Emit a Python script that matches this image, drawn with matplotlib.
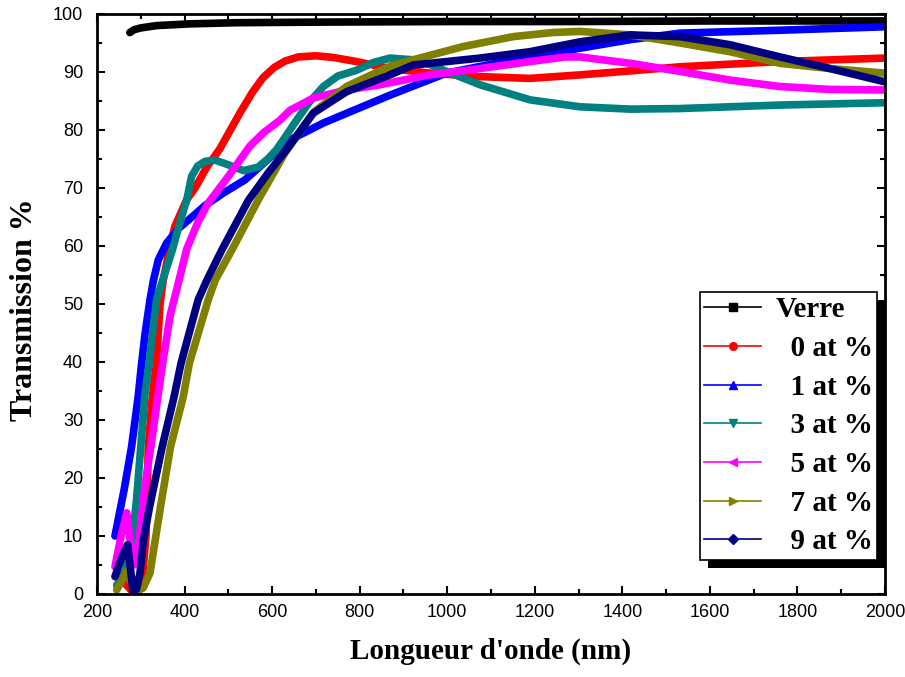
import matplotlib
matplotlib.use("Agg")
import matplotlib.pyplot as plt
from matplotlib.lines import Line2D
from matplotlib.patches import Rectangle
from matplotlib.transforms import IdentityTransform
from matplotlib.ticker import MultipleLocator

# Transmission spectra: wavelength (nm) and transmission (%) per sample
verre_wl = [275, 285, 300, 336, 412, 519, 700, 1000, 1300, 1600, 2000]
verre_t = [96.8, 97.3, 97.6, 98.0, 98.3, 98.5, 98.6, 98.7, 98.7, 98.8, 98.8]

at0_wl = [262, 280, 295, 305, 312, 317, 325, 336, 344, 351, 367, 378, 405, 424, 450,
          481, 527, 555, 579, 605, 630, 660, 700, 740, 793, 869, 960, 1075, 1189, 1303,
          1420, 1532, 1760, 2000]
at0_t = [2, 0.5, 1.5, 4, 10, 25, 33, 40, 50, 54, 60, 63.4, 68, 70, 73.5,
         76.8, 83, 86.5, 89, 90.8, 91.9, 92.6, 92.8, 92.5, 91.8, 90.6, 89.8, 89.2, 88.9, 89.5,
         90.2, 90.9, 91.8, 92.4]

at1_wl = [241, 262, 279, 294, 302, 310, 321, 329, 340, 359, 386, 420, 447, 490, 538, 599,
          641, 717, 793, 869, 998, 1151, 1303, 1420, 1532, 1760, 2000]
at1_t = [10, 18, 25.4, 34, 39.8, 45, 50.7, 54.1, 57.6, 60.5, 63, 65.2, 67, 69.2, 71.4, 75.5,
         78.3, 81.2, 83.6, 86, 89.8, 92.1, 94.1, 95.6, 96.7, 97.2, 97.8]

at3_wl = [245, 265, 280, 290, 300, 309, 319, 336, 348, 372, 393, 405, 416, 430, 447, 470,
          500, 535, 568, 590, 610, 630, 656, 685, 717, 750, 793, 830, 869, 922, 960, 998,
          1075, 1189, 1303, 1418, 1532, 1646, 1760, 2000]
at3_t = [1.5, 4, 9, 16, 25.4, 34, 39.8, 50.7, 53.6, 59.3, 65, 67.9, 72, 73.8, 74.6, 74.8,
         74, 73, 73.6, 75, 76.6, 78.8, 81.7, 84.8, 87.5, 89.3, 90.3, 91.6, 92.4, 92.1, 91.3, 90.1,
         87.8, 85.2, 84, 83.6, 83.7, 84, 84.3, 84.7]

at5_wl = [241, 255, 268, 276, 284, 292, 300, 310, 323, 339, 350, 367, 387, 405, 430, 454,
          500, 549, 580, 618, 641, 694, 770, 846, 960, 1075, 1189, 1270, 1303, 1418,
          1532, 1646, 1760, 1874, 2000]
at5_t = [4.7, 10, 14, 9, 5, 6, 12, 19, 25.4, 34, 39.8, 48, 54, 59.5, 64, 67.4,
         72, 77.2, 79.5, 81.7, 83.4, 85.5, 86.9, 87.8, 89.5, 90.6, 91.8, 92.6, 92.6, 91.5,
         90.1, 88.6, 87.5, 87, 86.9]

at7_wl = [245, 258, 268, 278, 290, 305, 321, 345, 368, 397, 411, 454, 470, 508, 568,
          629, 694, 770, 869, 922, 1037, 1151, 1240, 1303, 1418, 1532, 1646, 1760, 1874, 2000]
at7_t = [0.7, 2.5, 4, 2, 0.5, 1, 3.6, 15, 25.4, 34, 39.8, 50.7, 54.1, 59.3, 67.9,
         76, 83, 87.5, 91, 92.1, 94.4, 96.1, 96.8, 97, 96.4, 95, 93.5, 91.5, 90.6, 89.8]

at9_wl = [241, 255, 270, 277, 282, 290, 298, 306, 320, 349, 376, 392, 431, 451, 485,
          546, 590, 633, 694, 770, 869, 922, 1075, 1189, 1303, 1418, 1532, 1646, 1760, 1874, 2000]
at9_t = [3, 6, 8.5, 4, 0.5, 0.8, 3.5, 9.3, 15, 25.4, 34, 39.8, 50.7, 54.1, 59.3,
         67.9, 72.5, 76.6, 82.9, 86.6, 89.5, 91.2, 92.4, 93.5, 95.2, 96.4, 96.1, 94.7, 92.6, 90.6, 88.3]

labels = ["Verre", "  0 at %", "  1 at %", "  3 at %", "  5 at %", "  7 at %", "  9 at %"]
colors = ["#000000", "#FF0000", "#0000FF", "#008080", "#FF00FF", "#808000", "#000080"]
markers = ["s", "o", "^", "v", "<", ">", "D"]
wavelengths = [verre_wl, at0_wl, at1_wl, at3_wl, at5_wl, at7_wl, at9_wl]
transmissions = [verre_t, at0_t, at1_t, at3_t, at5_t, at7_t, at9_t]

serif = "Liberation Serif"
sans = "Liberation Sans"

fig = plt.figure(figsize=(9.05, 6.77), dpi=100)
ax = fig.add_axes([97 / 905, 1 - 594 / 677, 788 / 905, 580 / 677])

for wl, t, c in zip(wavelengths, transmissions, colors):
    ax.plot(wl, t, color=c, lw=5.5, solid_joinstyle="round", solid_capstyle="round")

ax.set_xlim(200, 2000)
ax.set_ylim(0, 100)
ax.xaxis.set_major_locator(MultipleLocator(200))
ax.xaxis.set_minor_locator(MultipleLocator(100))
ax.yaxis.set_major_locator(MultipleLocator(10))
ax.yaxis.set_minor_locator(MultipleLocator(5))
ax.tick_params(which="both", direction="in", top=True, right=True, width=1.5)
ax.tick_params(which="major", length=6)
ax.tick_params(which="minor", length=3.5)
ax.tick_params(axis="x", pad=7)
ax.tick_params(axis="y", pad=10)
for lab in ax.get_xticklabels() + ax.get_yticklabels():
    lab.set_fontfamily(sans)
    lab.set_fontsize(13)
for sp in ax.spines.values():
    sp.set_linewidth(2)

ax.set_xlabel("Longueur d'onde (nm)", fontfamily=serif, fontweight="bold", fontsize=21)
ax.set_ylabel("Transmission %", fontfamily=serif, fontweight="bold", fontsize=23)
ax.xaxis.set_label_coords(0.5, -0.075)
ax.yaxis.set_label_coords(-0.073, 0.49)

handles = [Line2D([], [], color=c, lw=1.2, marker=m, markersize=5.5,
                  markerfacecolor=c, markeredgecolor=c)
           for c, m in zip(colors, markers)]
leg = ax.legend(handles, labels, loc="upper left",
                bbox_to_anchor=(700 / 905, 1 - 292 / 677), bbox_transform=fig.transFigure,
                prop={"family": serif, "weight": "bold", "size": 21},
                frameon=True, fancybox=False, framealpha=1, edgecolor="black",
                borderpad=0.15, labelspacing=0.4, handlelength=1.95, handletextpad=0.5,
                borderaxespad=0)
leg.get_frame().set_linewidth(1.2)

fig.canvas.draw()
bb = leg.get_window_extent()
shadow = Rectangle((bb.x0 + 8, bb.y0 - 8), bb.width, bb.height,
                   transform=IdentityTransform(), facecolor="black", edgecolor="none",
                   zorder=leg.get_zorder() - 0.1, clip_on=False)
ax.add_artist(shadow)

fig.savefig("out.png", dpi=100)
